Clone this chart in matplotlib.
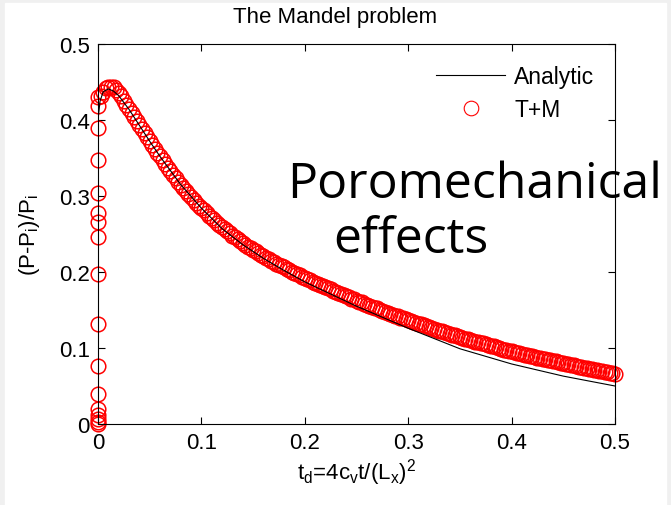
import matplotlib
matplotlib.use("Agg")
import matplotlib.pyplot as plt
from matplotlib.patches import Rectangle

plt.rcParams["font.family"] = ["Liberation Sans", "DejaVu Sans"]
plt.rcParams["mathtext.fontset"] = "custom"
plt.rcParams["mathtext.rm"] = "Liberation Sans"
plt.rcParams["mathtext.it"] = "Liberation Sans"

# T+M: points stacked at t_d = 0, then the simulated curve
tm_start_y = [0.0, 0.003, 0.007, 0.012, 0.02, 0.04, 0.076, 0.132, 0.197,
              0.246, 0.266, 0.278, 0.304, 0.347, 0.389, 0.418, 0.43]
tm_x = [0.0025, 0.005, 0.0075, 0.010, 0.0125, 0.015, 0.0175, 0.020, 0.0225, 0.025,
        0.0275, 0.030, 0.0325, 0.035, 0.0375, 0.040, 0.0425, 0.045, 0.0475, 0.050,
        0.0525, 0.055, 0.0575, 0.060, 0.0625, 0.065, 0.0675, 0.070, 0.0725, 0.075,
        0.0775, 0.080, 0.0825, 0.085, 0.0875, 0.090, 0.0925, 0.095, 0.0975, 0.100,
        0.1025, 0.105, 0.1075, 0.110, 0.1125, 0.115, 0.1175, 0.120, 0.1225, 0.125,
        0.1275, 0.130, 0.1325, 0.135, 0.1375, 0.140, 0.1425, 0.145, 0.1475, 0.150,
        0.1525, 0.155, 0.1575, 0.160, 0.1625, 0.165, 0.1675, 0.170, 0.1725, 0.175,
        0.1775, 0.180, 0.1825, 0.185, 0.1875, 0.190, 0.1925, 0.195, 0.1975, 0.200,
        0.2025, 0.205, 0.2075, 0.210, 0.2125, 0.215, 0.2175, 0.220, 0.2225, 0.225,
        0.2275, 0.230, 0.2325, 0.235, 0.2375, 0.240, 0.2425, 0.245, 0.2475, 0.250,
        0.2525, 0.255, 0.2575, 0.260, 0.2625, 0.265, 0.2675, 0.270, 0.2725, 0.275,
        0.2775, 0.280, 0.2825, 0.285, 0.2875, 0.290, 0.2925, 0.295, 0.2975, 0.300,
        0.3025, 0.305, 0.3075, 0.310, 0.3125, 0.315, 0.3175, 0.320, 0.3225, 0.325,
        0.3275, 0.330, 0.3325, 0.335, 0.3375, 0.340, 0.3425, 0.345, 0.3475, 0.350,
        0.3525, 0.355, 0.3575, 0.360, 0.3625, 0.365, 0.3675, 0.370, 0.3725, 0.375,
        0.3775, 0.380, 0.3825, 0.385, 0.3875, 0.390, 0.3925, 0.395, 0.3975, 0.400,
        0.4025, 0.405, 0.4075, 0.410, 0.4125, 0.415, 0.4175, 0.420, 0.4225, 0.425,
        0.4275, 0.430, 0.4325, 0.435, 0.4375, 0.440, 0.4425, 0.445, 0.4475, 0.450,
        0.4525, 0.455, 0.4575, 0.460, 0.4625, 0.465, 0.4675, 0.470, 0.4725, 0.475,
        0.4775, 0.480, 0.4825, 0.485, 0.4875, 0.490, 0.4925, 0.495, 0.4975, 0.500]
tm_y = [0.432, 0.437, 0.442, 0.444, 0.444, 0.443, 0.440, 0.436, 0.431, 0.425,
        0.4195, 0.414, 0.409, 0.404, 0.3985, 0.393, 0.388, 0.383, 0.3775, 0.372,
        0.367, 0.3625, 0.357, 0.352, 0.347, 0.342, 0.337, 0.3325, 0.328, 0.3235,
        0.319, 0.315, 0.311, 0.3065, 0.3025, 0.2985, 0.295, 0.291, 0.2875, 0.284,
        0.281, 0.2775, 0.274, 0.271, 0.268, 0.265, 0.262, 0.259, 0.256, 0.2535,
        0.251, 0.248, 0.2455, 0.243, 0.2405, 0.238, 0.236, 0.2335, 0.231, 0.229,
        0.227, 0.225, 0.223, 0.221, 0.219, 0.217, 0.215, 0.213, 0.211, 0.2095,
        0.2075, 0.206, 0.204, 0.2025, 0.2005, 0.199, 0.1975, 0.196, 0.194, 0.1925,
        0.191, 0.189, 0.1875, 0.186, 0.1845, 0.183, 0.1815, 0.180, 0.1785, 0.177,
        0.1755, 0.174, 0.1725, 0.171, 0.1695, 0.168, 0.1665, 0.165, 0.164, 0.1625,
        0.161, 0.160, 0.1585, 0.157, 0.1555, 0.1545, 0.153, 0.152, 0.1505, 0.149,
        0.148, 0.1465, 0.145, 0.144, 0.1425, 0.1415, 0.140, 0.139, 0.138, 0.137,
        0.1355, 0.1345, 0.133, 0.132, 0.131, 0.130, 0.1285, 0.1275, 0.126, 0.125,
        0.124, 0.123, 0.122, 0.121, 0.120, 0.119, 0.1175, 0.1165, 0.1155, 0.1145,
        0.1135, 0.1125, 0.1115, 0.1105, 0.1095, 0.1085, 0.1075, 0.1065, 0.106, 0.105,
        0.104, 0.103, 0.102, 0.101, 0.100, 0.099, 0.098, 0.0975, 0.0965, 0.0955,
        0.0948, 0.094, 0.093, 0.092, 0.0913, 0.0905, 0.0898, 0.089, 0.0883, 0.0875,
        0.0868, 0.086, 0.0853, 0.0845, 0.0838, 0.083, 0.0823, 0.0815, 0.0808, 0.080,
        0.0793, 0.0785, 0.0778, 0.077, 0.0763, 0.0755, 0.0748, 0.074, 0.0734, 0.0727,
        0.072, 0.0713, 0.0707, 0.070, 0.0694, 0.0687, 0.068, 0.0673, 0.0667, 0.066]

# analytic solution
an_x = [0.0, 0.0, 0.002, 0.005, 0.01, 0.015, 0.02, 0.03, 0.04, 0.05, 0.06,
        0.08, 0.1, 0.12, 0.14, 0.16, 0.18, 0.2, 0.25, 0.3, 0.35, 0.4, 0.45, 0.5]
an_y = [0.0, 0.40, 0.425, 0.437, 0.441, 0.438, 0.432, 0.414, 0.393, 0.372, 0.352,
        0.315, 0.284, 0.257, 0.236, 0.218, 0.202, 0.187, 0.155, 0.126, 0.099,
        0.079, 0.063, 0.050]

ticks = [0, 0.1, 0.2, 0.3, 0.4, 0.5]
tick_labels = ["0", "0.1", "0.2", "0.3", "0.4", "0.5"]

W, H = 671, 506
fig = plt.figure(figsize=(W / 100, H / 100), dpi=100)
fig.set_facecolor("#f0f0f0")
fig.patches.append(Rectangle((5 / W, 0), 1 - 10 / W, 1 - 4 / H,
                             transform=fig.transFigure, color="white", zorder=-1))

ax = fig.add_axes([98 / W, 1 - 425 / H, 517 / W, 380 / H])
ax.plot(an_x, an_y, color="black", lw=0.8, label="Analytic", zorder=3)
ax.plot([0] * len(tm_start_y) + tm_x, tm_start_y + tm_y, ls="none", marker="o",
        ms=10.5, mfc="none", mec="red", mew=1.1, label="T+M", clip_on=False, zorder=2)

ax.set_xlim(0, 0.5)
ax.set_ylim(0, 0.5)
ax.set_xticks(ticks)
ax.set_xticklabels(tick_labels)
ax.set_yticks(ticks)
ax.set_yticklabels(tick_labels)
ax.tick_params(direction="in", length=5, width=0.8, top=True, right=True,
               labelsize=16, pad=6)
for spine in ax.spines.values():
    spine.set_linewidth(0.8)

fig.text(335 / W, 1 - 18 / H, "The Mandel problem", fontsize=16,
         ha="center", va="center")
ax.set_xlabel(r"t$_\mathrm{d}$=4c$_\mathrm{v}$t/(L$_\mathrm{x}$)$^\mathrm{2}$",
              fontsize=16, labelpad=2)
ax.set_ylabel(r"(P-P$_\mathrm{i}$)/P$_\mathrm{i}$", fontsize=16, labelpad=12)

leg = ax.legend(loc="upper right", frameon=False, fontsize=16.5, handlelength=3.0,
                borderaxespad=0.5, handletextpad=0.4, labelspacing=0.45)
leg.legend_handles[1].set_markeredgewidth(0.8)

fig.text(287 / W, 1 - 198 / H, "Poromechanical", fontsize=36, family="Open Sans",
         va="baseline", ha="left")
fig.text(333 / W, 1 - 253 / H, "effects", fontsize=36, family="Open Sans",
         va="baseline", ha="left")

fig.savefig("out.png", dpi=100)
